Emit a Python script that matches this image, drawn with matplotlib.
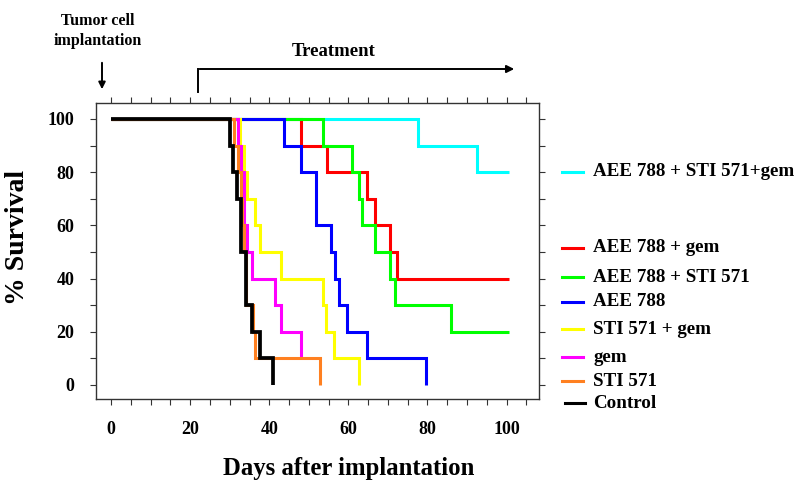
import matplotlib
matplotlib.use("Agg")
import matplotlib.pyplot as plt
from matplotlib.lines import Line2D
from matplotlib.ticker import MultipleLocator

plt.rcParams['font.family'] = ['Liberation Serif', 'DejaVu Serif']
plt.rcParams['font.weight'] = 'bold'

# ---- data (days, % survival) ----
labels = ["AEE 788 + STI 571+gem", "AEE 788 + gem", "AEE 788 + STI 571", "AEE 788",
          "STI 571 + gem", "gem", "STI 571", "Control"]
colors = ["#00FFFF", "#FF0000", "#00FF00", "#0000FF", "#FFFF00", "#FF00FF", "#FF8020", "#000000"]

cyan_days = [0, 77.5, 92.5, 100.5]
cyan_surv = [100, 90, 80, 80]
red_days = [0, 48, 54.5, 64.8, 66.7, 70.5, 72.4, 100.5]
red_surv = [100, 90, 80, 70, 60, 50, 40, 40]
green_days = [0, 53.7, 60.8, 62.8, 63.4, 66.7, 70.5, 71.8, 85.9, 100.5]
green_surv = [100, 90, 80, 70, 60, 50, 40, 30, 20, 20]
blue_days = [0, 43.6, 48, 51.8, 55.6, 56.6, 57.7, 59.6, 64.8, 79.6]
blue_surv = [100, 90, 80, 60, 50, 40, 30, 20, 10, 0]
yellow_days = [0, 32.5, 33.6, 34.3, 36.4, 37.7, 42.9, 53.7, 54.4, 56.4, 62.8]
yellow_surv = [100, 90, 80, 70, 60, 50, 40, 30, 20, 10, 0]
magenta_days = [0, 32, 32.8, 33.6, 34.3, 35.7, 41.5, 43, 48]
magenta_surv = [100, 90, 80, 60, 50, 40, 30, 20, 10]
orange_days = [0, 31, 32, 32.8, 33.2, 33.5, 34.2, 35.8, 36.5, 52.7]
orange_surv = [100, 90, 80, 70, 60, 50, 30, 20, 10, 0]
control_days = [0, 30, 30.8, 31.8, 32.8, 34.1, 35.7, 37.7, 40.9]
control_surv = [100, 90, 80, 70, 50, 30, 20, 10, 0]

series = [(cyan_days, cyan_surv), (red_days, red_surv), (green_days, green_surv),
          (blue_days, blue_surv), (yellow_days, yellow_surv), (magenta_days, magenta_surv),
          (orange_days, orange_surv), (control_days, control_surv)]

xticks = [0, 20, 40, 60, 80, 100]
yticks = [0, 20, 40, 60, 80, 100]

W, H = 800, 487
fig = plt.figure(figsize=(W / 100, H / 100), dpi=100)

def fx(px):
    return px / W

def fy(py):
    return 1 - py / H

ax = fig.add_axes([fx(95.7), fy(399.3), fx(539) - fx(95.7), fy(103.3) - fy(399.3)])

for (d, s), c, lab in zip(series, colors, labels):
    lw = 2.7 if c == "#000000" else 2.2
    ax.plot(d, s, drawstyle='steps-post', color=c, lw=lw, label=lab,
            solid_capstyle='butt', solid_joinstyle='miter')

ax.set_xlim(-3.9, 108.2)
ax.set_ylim(-5.4, 105.9)
ax.set_xticks(xticks)
ax.set_yticks(yticks)
ax.xaxis.set_minor_locator(MultipleLocator(5))
ax.yaxis.set_minor_locator(MultipleLocator(10))
ax.tick_params(axis='both', which='both', direction='out', length=4.5, width=0.8,
               color='#333333', top=True, right=True, labelsize=13, pad=11)
ax.tick_params(axis='y', which='both', pad=11)
for lbl in ax.get_xticklabels() + ax.get_yticklabels():
    lbl.set_fontweight('bold')
for sp in ax.spines.values():
    sp.set_color('#333333')
    sp.set_linewidth(1.0)

# axis titles
fig.text(fx(349), fy(468), "Days after implantation", ha='center', va='center',
         fontsize=17.8, fontweight='bold')
fig.text(fx(18), fy(237), "% Survival", ha='center', va='center', rotation=90,
         fontsize=20, fontweight='bold')

# legend (manual, irregular spacing)
leg_y = [172, 248, 277, 302, 329, 357, 381, 403]
for yy, c, lab in zip(leg_y, colors, labels):
    x0, x1 = (565, 585) if c == "#000000" else (562, 583)
    fig.add_artist(Line2D([fx(x0), fx(x1)], [fy(yy), fy(yy)], color=c, lw=2.2,
                          transform=fig.transFigure))
    fig.text(fx(593), fy(yy), lab, ha='left', va='center', fontsize=13.7, fontweight='bold')

# annotations
fig.text(fx(98), fy(21), "Tumor cell", ha='center', va='center', fontsize=11.5, fontweight='bold')
fig.text(fx(98), fy(41), "implantation", ha='center', va='center', fontsize=11.5, fontweight='bold')
fig.add_artist(matplotlib.patches.FancyArrowPatch((fx(102), fy(60)), (fx(102), fy(92)),
               transform=fig.transFigure, arrowstyle='-|>', mutation_scale=10,
               color='black', lw=1.4))

fig.text(fx(334), fy(51), "Treatment", ha='center', va='center', fontsize=13.5, fontweight='bold')
fig.add_artist(Line2D([fx(197.5), fx(197.5)], [fy(92), fy(69)], color='black', lw=1.4,
                      transform=fig.transFigure))
fig.add_artist(matplotlib.patches.FancyArrowPatch((fx(196.8), fy(69)), (fx(517), fy(69)),
               transform=fig.transFigure, arrowstyle='-|>', mutation_scale=11,
               color='black', lw=1.4))

fig.savefig("out.png", dpi=100)
